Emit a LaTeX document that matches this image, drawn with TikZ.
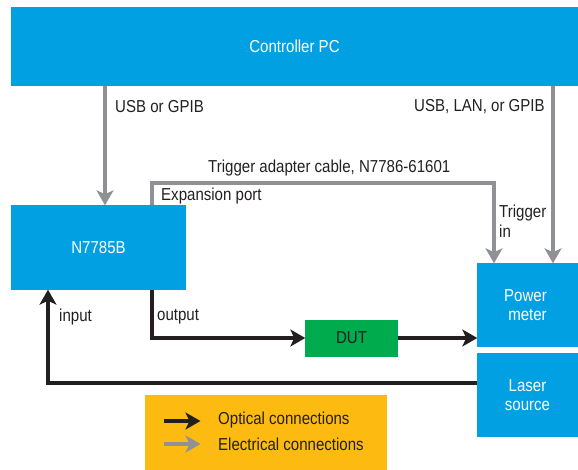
\documentclass[tikz,border=0pt]{standalone}
\usepackage{fontspec}
\setmainfont[FakeStretch=0.87]{Liberation Sans}
\usetikzlibrary{arrows.meta}
\definecolor{boxblue}{HTML}{00A0E2}
\definecolor{dutgreen}{HTML}{00AB4E}
\definecolor{legendgold}{HTML}{FDBB12}
\definecolor{wiregray}{HTML}{8F9194}
\definecolor{wireblack}{HTML}{231F20}
\tikzset{
  x=1pt,y=-1pt,
  txt/.style={font=\fontsize{17.3}{19.5}\selectfont},
  bluebox/.style={txt,fill=boxblue,text=white,inner sep=0pt,align=center},
  lbl/.style={txt,text=wireblack,inner sep=0pt,anchor=west,align=left},
  elec/.style={draw=wiregray,line width=4pt,-{Stealth[length=15pt,width=17pt,inset=4pt]},shorten >=-0.5pt},
  opt/.style={draw=wireblack,line width=4pt,-{Stealth[length=15pt,width=17pt,inset=4pt]},shorten >=-0.5pt},
}
\begin{document}
\begin{tikzpicture}[line join=miter]
\useasboundingbox (0,0) rectangle (578,470);
\node[bluebox,minimum width=567pt,minimum height=79pt] (pc) at (294.5,46.5) {Controller PC};
\node[bluebox,minimum width=175pt,minimum height=85pt] (n7) at (98.5,247.5) {N7785B};
\node[bluebox,minimum width=101pt,minimum height=84pt] (pm) at (527.5,305) {\hspace*{-4pt}Power\\meter};
\node[bluebox,minimum width=101pt,minimum height=84pt] (ls) at (527.5,395) {Laser\\source};
\node[txt,fill=dutgreen,text=wireblack,inner sep=0pt,minimum width=93pt,minimum height=37pt] (dut) at (351.5,338) {DUT};
\node[fill=legendgold,minimum width=242pt,minimum height=75pt,inner sep=0pt] (leg) at (266,432.5) {};
% electrical
\draw[elec] ([xshift=6.5pt]n7.north |- pc.south) -- ([xshift=6.5pt]n7.north);
\draw[elec] ([xshift=53.5pt]n7.north) -- ++(0,-22) -| ([xshift=-33.5pt]pm.north);
\draw[elec] ([xshift=25.5pt]pm.north |- pc.south) -- ([xshift=25.5pt]pm.north);
% optical
\draw[opt] ([xshift=53.5pt]n7.south) |- (dut.west);
\draw[opt] (dut.east) -- (dut.east -| pm.west);
\draw[opt] ([yshift=12pt]ls.west) -| ([xshift=-50.5pt]n7.south);
% legend
\coordinate (oa) at (164,421); \coordinate (ob) at (200,421);
\coordinate (ea) at (164,444); \coordinate (eb) at (200,444);
\draw[opt] (oa) -- (ob);
\draw[elec] (ea) -- (eb);
% labels
\node[lbl] (l1) at (115,107) {USB or GPIB};
\node[lbl] (l2) at (414,107) {USB, LAN, or GPIB};
\node[lbl] (l3) at (208,168) {Trigger adapter cable, N7786-61601};
\node[lbl] (l4) at (161,196) {Expansion port};
\node[lbl] (l5) at (499,221) {Trigger\\in};
\node[lbl] (l6) at (59,317) {input};
\node[lbl] (l7) at (157,317) {output};
\node[lbl] (l8) at (218,420) {Optical connections};
\node[lbl] (l9) at (218,444) {Electrical connections};
\end{tikzpicture}
\end{document}
